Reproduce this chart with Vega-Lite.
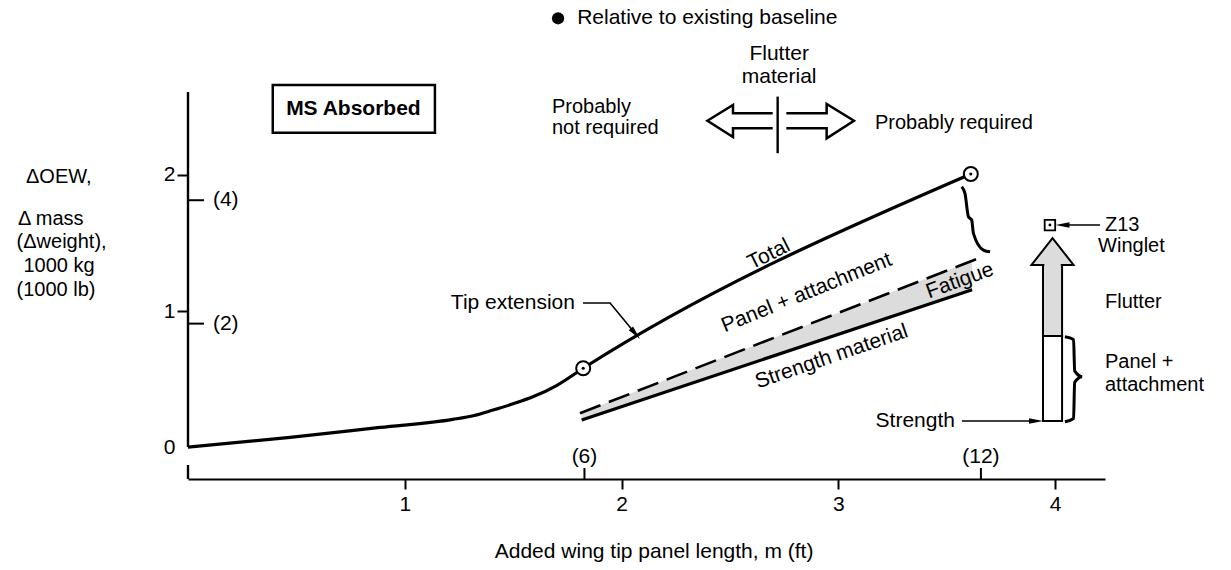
{
  "$schema": "https://vega.github.io/schema/vega-lite/v6.json",
  "width": 917,
  "height": 387,
  "autosize": {"type": "none"},
  "padding": {"left": 188, "top": 92, "right": 126, "bottom": 91},
  "background": "white",
  "config": {
    "view": {"stroke": null},
    "text": {"font": "Liberation Sans", "fontSize": 21, "color": "black", "baseline": "middle"},
    "axis": {"labelFont": "Liberation Sans", "labelFontSize": 21, "labelColor": "black", "domainColor": "black", "tickColor": "black", "grid": false}
  },
  "datasets": {
    "total": [{"x":0,"y":0},{"x":0.471,"y":0.071},{"x":0.886,"y":0.144},{"x":1.222,"y":0.203},{"x":1.32,"y":0.232},{"x":1.407,"y":0.272},{"x":1.50,"y":0.318},{"x":1.591,"y":0.369},{"x":1.70,"y":0.452},{"x":1.823,"y":0.579},{"x":3.611,"y":2.007}],
    "band": [{"x":1.816,"y":0.253,"y2":0.199},{"x":3.617,"y":1.369,"y2":1.157}],
    "dashed": [{"x":1.808,"y":0.248},{"x":3.644,"y":1.386}],
    "strength": [{"x":1.816,"y":0.199},{"x":3.617,"y":1.157}],
    "circles": [{"x":1.823,"y":0.579},{"x":3.611,"y":2.007}],
    "braces": [
      {"g":"top","i":0,"x":3.569,"y":1.914},{"g":"top","i":1,"x":3.584,"y":1.865},{"g":"top","i":2,"x":3.600,"y":1.693},{"g":"top","i":3,"x":3.615,"y":1.669},{"g":"top","i":4,"x":3.623,"y":1.571},{"g":"top","i":5,"x":3.669,"y":1.448},{"g":"top","i":6,"x":3.700,"y":1.435},
      {"g":"bar","i":0,"x":4.045,"y":0.811},{"g":"bar","i":1,"x":4.085,"y":0.79},{"g":"bar","i":2,"x":4.09,"y":0.56},{"g":"bar","i":3,"x":4.125,"y":0.517},{"g":"bar","i":4,"x":4.09,"y":0.475},{"g":"bar","i":5,"x":4.085,"y":0.21},{"g":"bar","i":6,"x":4.045,"y":0.186}
    ],
    "shaft": [{"x":3.944,"x2":4.032,"y":0.191,"y2":0.816}],
    "flutterBar": [{"x":3.944,"x2":4.032,"y":0.816,"y2":1.338}],
    "cover": [{"x":3.95,"x2":4.026,"y":1.30,"y2":1.35}],
    "head": [{"x":3.988,"y":1.4375}],
    "square": [{"x":3.976,"y":1.632}],
    "leaders": [
      {"g":"tip","i":0,"x":1.822,"y":1.059},{"g":"tip","i":1,"x":1.947,"y":1.059},{"g":"tip","i":2,"x":2.064,"y":0.833},
      {"g":"str","i":0,"x":3.57,"y":0.191},{"g":"str","i":1,"x":3.912,"y":0.191},
      {"g":"z13","i":0,"x":4.207,"y":1.632},{"g":"z13","i":1,"x":4.034,"y":1.632}
    ],
    "headRight": [{"x":3.912,"y":0.191}],
    "headLeft": [{"x":4.034,"y":1.632}],
    "headTip": [{"x":2.064,"y":0.833}],
    "topArrows": [
      {"g":"L","i":0,"x":2.697,"y":2.453},{"g":"L","i":1,"x":2.514,"y":2.453},{"g":"L","i":2,"x":2.514,"y":2.515},{"g":"L","i":3,"x":2.396,"y":2.399},{"g":"L","i":4,"x":2.514,"y":2.279},{"g":"L","i":5,"x":2.514,"y":2.343},{"g":"L","i":6,"x":2.697,"y":2.343},
      {"g":"R","i":0,"x":2.760,"y":2.453},{"g":"R","i":1,"x":2.946,"y":2.453},{"g":"R","i":2,"x":2.946,"y":2.522},{"g":"R","i":3,"x":3.072,"y":2.399},{"g":"R","i":4,"x":2.946,"y":2.269},{"g":"R","i":5,"x":2.946,"y":2.343},{"g":"R","i":6,"x":2.760,"y":2.343}
    ],
    "vlines": [{"x":2.720,"y":2.160,"y2":2.576},{"x":0,"y":0,"y2":2.61},{"x":0,"y":-0.235,"y2":-0.132}],
    "ftXTicks": [{"x":1.8288,"y":-0.235,"y2":-0.154},{"x":3.6576,"y":-0.235,"y2":-0.154}],
    "ftXText": [{"x":1.8288,"y":-0.074,"t":"(6)"},{"x":3.6576,"y":-0.074,"t":"(12)"}],
    "ftYTicks": [{"x":0,"x2":0.074,"y":1.8144},{"x":0,"x2":0.074,"y":0.9072}],
    "ftYText": [{"x":0.115,"y":1.8144,"t":"(4)"},{"x":0.115,"y":0.9072,"t":"(2)"}],
    "msBox": [{"x":0.391,"x2":1.139,"y":2.311,"y2":2.662}],
    "msText": [{"x":0.763,"y":2.482,"t":"MS Absorbed"}],
    "bullet": [{"x":1.707,"y":3.152}],
    "relText": [{"x":1.795,"y":3.152,"t":"Relative to existing baseline"}],
    "textLeft": [
      {"x":1.679,"y":2.501,"t":"Probably"},
      {"x":1.679,"y":2.343,"t":"not required"},
      {"x":3.169,"y":2.379,"t":"Probably required"},
      {"x":4.230,"y":1.632,"t":"Z13"},
      {"x":4.198,"y":1.478,"t":"Winglet"},
      {"x":4.230,"y":1.066,"t":"Flutter"},
      {"x":4.230,"y":0.625,"t":"Panel +"},
      {"x":4.230,"y":0.455,"t":"attachment"}
    ],
    "textCenter": [
      {"x":2.727,"y":2.890,"t":"Flutter"},
      {"x":2.727,"y":2.720,"t":"material"},
      {"x":2.150,"y":-0.772,"t":"Added wing tip panel length, m (ft)"}
    ],
    "yTitle": [
      {"x":-0.596,"y":1.988,"t":"ΔOEW,"},
      {"x":-0.633,"y":1.676,"t":"Δ mass"},
      {"x":-0.583,"y":1.507,"t":"(Δweight),"},
      {"x":-0.595,"y":1.331,"t":"1000 kg"},
      {"x":-0.609,"y":1.154,"t":"(1000 lb)"}
    ],
    "textRight": [{"x":1.785,"y":1.059,"t":"Tip extension"},{"x":3.538,"y":0.191,"t":"Strength"}],
    "tTotal": [{"x":2.680,"y":1.415,"t":"Total"}],
    "tPanel": [{"x":2.854,"y":1.132,"t":"Panel + attachment"}],
    "tFatigue": [{"x":3.561,"y":1.222,"t":"Fatigue"}],
    "tStrength": [{"x":2.969,"y":0.663,"t":"Strength material"}]
  },
  "encoding": {
    "x": {"field": "x", "type": "quantitative", "scale": {"domain": [0, 4.23], "nice": false, "zero": false},
      "axis": {"values": [1, 2, 3, 4], "format": "d", "title": null, "tickSize": 10, "labelPadding": 4, "domainWidth": 2, "tickWidth": 2, "labelFlush": false}},
    "y": {"field": "y", "type": "quantitative", "scale": {"domain": [-0.235, 2.61], "nice": false, "zero": false},
      "axis": {"values": [0, 1, 2], "format": "d", "title": null, "tickSize": 11, "labelPadding": 2, "domain": false, "tickWidth": 2,
        "tickOpacity": {"condition": {"test": "datum.value === 0", "value": 0}, "value": 1}}}
  },
  "layer": [
    {"data": {"name": "band"}, "mark": {"type": "area", "color": "#dcdcdc"}, "encoding": {"y2": {"field": "y2"}}},
    {"data": {"name": "total"}, "mark": {"type": "line", "color": "black", "strokeWidth": 3.2, "interpolate": "monotone"}},
    {"data": {"name": "dashed"}, "mark": {"type": "line", "color": "black", "strokeWidth": 2.6, "strokeDash": [22, 9]}},
    {"data": {"name": "strength"}, "mark": {"type": "line", "color": "black", "strokeWidth": 3.2}},
    {"data": {"name": "circles"}, "mark": {"type": "point", "shape": "circle", "size": 196, "filled": true, "fill": "white", "stroke": "black", "strokeWidth": 2, "opacity": 1}},
    {"data": {"name": "circles"}, "mark": {"type": "point", "shape": "circle", "size": 10, "filled": true, "color": "black", "opacity": 1}},
    {"data": {"name": "braces"}, "mark": {"type": "line", "color": "black", "strokeWidth": 3, "interpolate": "monotone"},
      "encoding": {"detail": {"field": "g"}, "order": {"field": "i"}}},
    {"data": {"name": "shaft"}, "mark": {"type": "rect", "fill": "white", "stroke": "black", "strokeWidth": 2},
      "encoding": {"x2": {"field": "x2"}, "y2": {"field": "y2"}}},
    {"data": {"name": "flutterBar"}, "mark": {"type": "rect", "fill": "#dcdcdc", "stroke": "black", "strokeWidth": 2},
      "encoding": {"x2": {"field": "x2"}, "y2": {"field": "y2"}}},
    {"data": {"name": "head"}, "mark": {"type": "point", "shape": "M-1,0.64L0,-0.64L1,0.64Z", "size": 1764, "filled": true, "fill": "#dcdcdc", "stroke": "black", "strokeWidth": 2, "opacity": 1, "strokeJoin": "miter"}},
    {"data": {"name": "cover"}, "mark": {"type": "rect", "fill": "#dcdcdc", "strokeWidth": 0},
      "encoding": {"x2": {"field": "x2"}, "y2": {"field": "y2"}}},
    {"data": {"name": "square"}, "mark": {"type": "point", "shape": "square", "size": 110, "filled": true, "fill": "white", "stroke": "black", "strokeWidth": 1.8, "opacity": 1}},
    {"data": {"name": "square"}, "mark": {"type": "point", "shape": "circle", "size": 8, "filled": true, "color": "black", "opacity": 1}},
    {"data": {"name": "leaders"}, "mark": {"type": "line", "color": "black", "strokeWidth": 1.6},
      "encoding": {"detail": {"field": "g"}, "order": {"field": "i"}}},
    {"data": {"name": "headRight"}, "mark": {"type": "point", "shape": "M-1,-0.4L1,0L-1,0.4Z", "size": 196, "filled": true, "color": "black", "opacity": 1}},
    {"data": {"name": "headLeft"}, "mark": {"type": "point", "shape": "M1,-0.4L-1,0L1,0.4Z", "size": 196, "filled": true, "color": "black", "opacity": 1}},
    {"data": {"name": "headTip"}, "mark": {"type": "point", "shape": "M-1,-0.4L1,0L-1,0.4Z", "size": 196, "angle": 49.6, "filled": true, "color": "black", "opacity": 1}},
    {"data": {"name": "topArrows"}, "mark": {"type": "line", "color": "black", "strokeWidth": 2.5, "strokeJoin": "miter"},
      "encoding": {"detail": {"field": "g"}, "order": {"field": "i"}}},
    {"data": {"name": "vlines"}, "mark": {"type": "rule", "color": "black", "strokeWidth": 2.4}, "encoding": {"y2": {"field": "y2"}}},
    {"data": {"name": "ftXTicks"}, "mark": {"type": "rule", "color": "black", "strokeWidth": 2}, "encoding": {"y2": {"field": "y2"}}},
    {"data": {"name": "ftXText"}, "mark": {"type": "text", "align": "center"}, "encoding": {"text": {"field": "t"}}},
    {"data": {"name": "ftYTicks"}, "mark": {"type": "rule", "color": "black", "strokeWidth": 2}, "encoding": {"x2": {"field": "x2"}}},
    {"data": {"name": "ftYText"}, "mark": {"type": "text", "align": "left"}, "encoding": {"text": {"field": "t"}}},
    {"data": {"name": "msBox"}, "mark": {"type": "rect", "fill": null, "fillOpacity": 0, "stroke": "black", "strokeWidth": 2.5},
      "encoding": {"x2": {"field": "x2"}, "y2": {"field": "y2"}}},
    {"data": {"name": "msText"}, "mark": {"type": "text", "fontWeight": "bold", "align": "center"}, "encoding": {"text": {"field": "t"}}},
    {"data": {"name": "bullet"}, "mark": {"type": "point", "shape": "circle", "size": 150, "filled": true, "color": "black", "opacity": 1}},
    {"data": {"name": "relText"}, "mark": {"type": "text", "align": "left"}, "encoding": {"text": {"field": "t"}}},
    {"data": {"name": "textLeft"}, "mark": {"type": "text", "align": "left", "fontSize": 20}, "encoding": {"text": {"field": "t"}}},
    {"data": {"name": "textCenter"}, "mark": {"type": "text", "align": "center"}, "encoding": {"text": {"field": "t"}}},
    {"data": {"name": "yTitle"}, "mark": {"type": "text", "align": "center", "fontSize": 20}, "encoding": {"text": {"field": "t"}}},
    {"data": {"name": "textRight"}, "mark": {"type": "text", "align": "right"}, "encoding": {"text": {"field": "t"}}},
    {"data": {"name": "tTotal"}, "mark": {"type": "text", "align": "center", "angle": -26.6}, "encoding": {"text": {"field": "t"}}},
    {"data": {"name": "tPanel"}, "mark": {"type": "text", "align": "center", "angle": -22}, "encoding": {"text": {"field": "t"}}},
    {"data": {"name": "tFatigue"}, "mark": {"type": "text", "align": "center", "angle": -20}, "encoding": {"text": {"field": "t"}}},
    {"data": {"name": "tStrength"}, "mark": {"type": "text", "align": "center", "angle": -19}, "encoding": {"text": {"field": "t"}}}
  ]
}
